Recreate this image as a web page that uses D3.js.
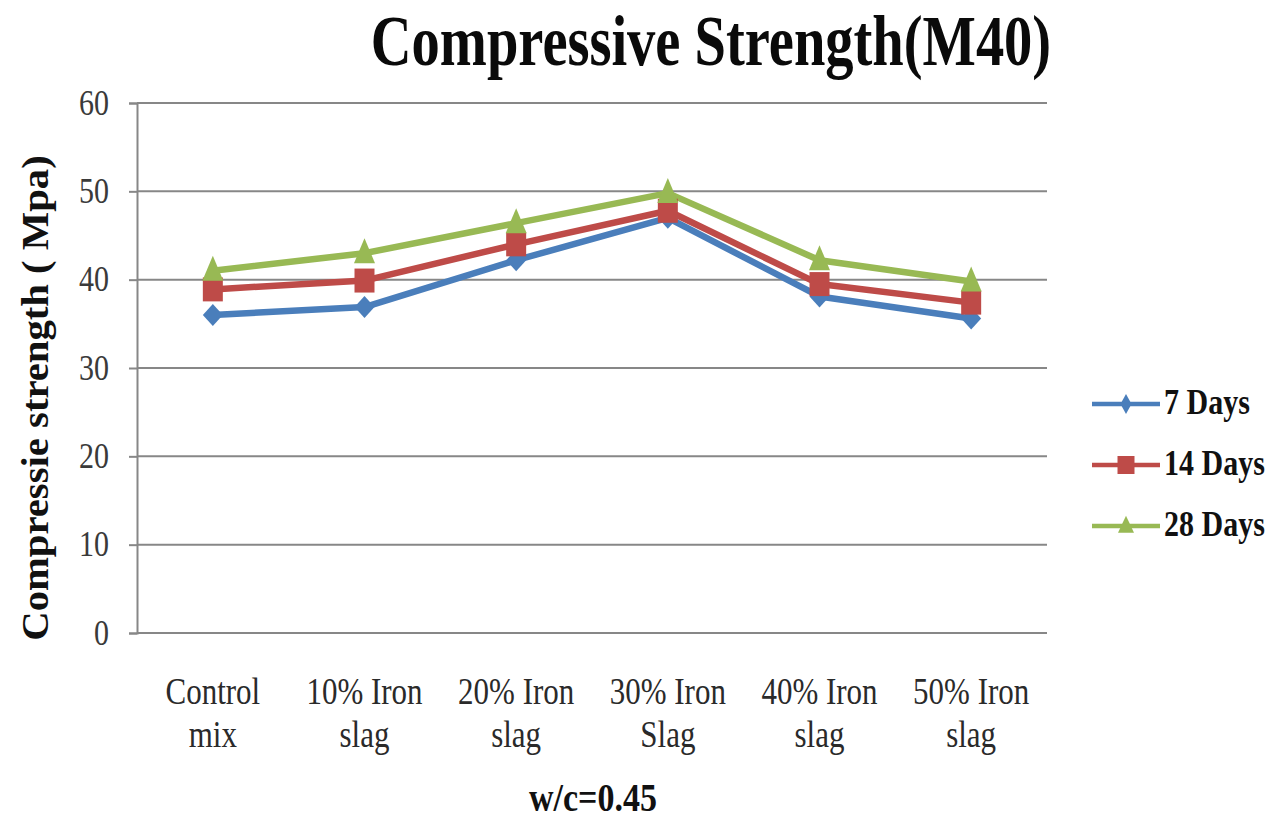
<!DOCTYPE html>
<html><head><meta charset="utf-8">
<script src="https://cdn.jsdelivr.net/npm/d3@7"></script>
<style>body{margin:0;background:#fff}svg{display:block}</style>
</head><body>
<svg id="c" width="1277" height="821"></svg>
<script>
const categories = [["Control","mix"],["10% Iron","slag"],["20% Iron","slag"],["30% Iron","Slag"],["40% Iron","slag"],["50% Iron","slag"]];
const seriesNames = ["7 Days","14 Days","28 Days"];
const days7  = [36.0, 36.9, 42.2, 47.0, 38.1, 35.6];
const days14 = [38.9, 39.9, 44.0, 47.8, 39.5, 37.4];
const days28 = [41.0, 43.0, 46.4, 49.8, 42.2, 39.8];
const yTicks = [0,10,20,30,40,50,60];
const colors = ["#4a7ebb","#be4b48","#98b954"];

const svg = d3.select("#c");
const L=137, R=1047, T=103, B=633;
const SY = 1.22; // vertical stretch of text
const x = d3.scalePoint().domain(d3.range(categories.length)).range([L,R]).padding(0.5);
const y = d3.scaleLinear().domain([0,60]).range([B,T]);
const serif = "'Liberation Serif','Times New Roman',serif";

// marker shapes (w,h)
function diamond(w,h){return `M0,${-h/2}L${w/2},0L0,${h/2}L${-w/2},0Z`;}
function square(w,h){return `M${-w/2},${-h/2}H${w/2}V${h/2}H${-w/2}Z`;}
function triangle(w,h){return `M0,${-h*0.6}L${w/2},${h*0.4}L${-w/2},${h*0.4}Z`;}
const markers = [()=>diamond(20,22), ()=>square(20,24), ()=>triangle(21,25)];
const legendMarkers = [()=>diamond(11,20), ()=>square(17,18), ()=>triangle(16,17)];

// gridlines
svg.append("g").selectAll("line").data(yTicks.filter(d=>d>0)).join("line")
  .attr("x1",L).attr("x2",R).attr("y1",d=>y(d)).attr("y2",d=>y(d))
  .attr("stroke","#878787").attr("stroke-width",2);
// y axis
const ya = svg.append("g").attr("transform",`translate(${L},0)`).call(d3.axisLeft(y).tickValues(yTicks).tickSize(8).tickPadding(20));
ya.select(".domain").attr("stroke","#878787").attr("stroke-width",2);
ya.selectAll(".tick line").attr("stroke","#878787").attr("stroke-width",2);
ya.selectAll("text").attr("font-family",serif).attr("font-size",30).attr("fill","#3a3a3a")
  .attr("dy",null).attr("y",null).attr("transform",`translate(0,11) scale(1,${SY})`);
// x axis line
svg.append("line").attr("x1",L).attr("x2",R).attr("y1",B).attr("y2",B).attr("stroke","#878787").attr("stroke-width",2);

// x labels
const xl = svg.append("g").selectAll("g").data(categories).join("g")
  .attr("transform",(d,i)=>`translate(${x(i)},0)`);
xl.each(function(d){
  const g=d3.select(this);
  d.forEach((s,k)=>g.append("text").attr("text-anchor","middle")
    .attr("transform",`translate(0,${k?747:704}) scale(1,${SY})`)
    .attr("font-family",serif).attr("font-size",31).attr("fill","#2a2a2a").text(s));
});

// series
const allSeries=[days7,days14,days28];
const line = d3.line().x((d,i)=>x(i)).y(d=>y(d));
allSeries.forEach((vals,si)=>{
  svg.append("path").datum(vals).attr("d",line).attr("fill","none")
    .attr("stroke",colors[si]).attr("stroke-width",6.5).attr("stroke-linejoin","round");
});
allSeries.forEach((vals,si)=>{
  svg.append("g").selectAll("path").data(vals).join("path")
    .attr("transform",(d,i)=>`translate(${x(i)},${y(d)})`)
    .attr("d",markers[si]).attr("fill",colors[si]);
});

// legend
const lg = svg.append("g");
const legY = [404, 465, 526];
seriesNames.forEach((n,i)=>{
  const yy = legY[i];
  lg.append("line").attr("x1",1092).attr("x2",1160).attr("y1",yy).attr("y2",yy).attr("stroke",colors[i]).attr("stroke-width",4.5);
  lg.append("path").attr("transform",`translate(1126,${yy})`).attr("d",legendMarkers[i]).attr("fill",colors[i]);
  lg.append("text").attr("transform",`translate(1164,${yy+10}) scale(1,1.2)`).text(n)
    .attr("font-family",serif).attr("font-weight","bold").attr("font-size",30).attr("fill","#111");
});

// title
svg.append("text").attr("transform",`translate(711,65) scale(1,1.28)`).attr("text-anchor","middle").text("Compressive Strength(M40)")
  .attr("font-family",serif).attr("font-weight","bold").attr("font-size",56.5).attr("fill","#0a0a0a");
// y title
svg.append("text").attr("transform",`translate(48,398) rotate(-90) scale(1.1,1)`).attr("text-anchor","middle").text("Compressie strength ( Mpa)")
  .attr("font-family",serif).attr("font-weight","bold").attr("font-size",37).attr("fill","#111");
// x title
svg.append("text").attr("transform",`translate(593,811) scale(1,1.2)`).attr("text-anchor","middle").text("w/c=0.45")
  .attr("font-family",serif).attr("font-weight","bold").attr("font-size",34).attr("fill","#111");
</script>
</body></html>
